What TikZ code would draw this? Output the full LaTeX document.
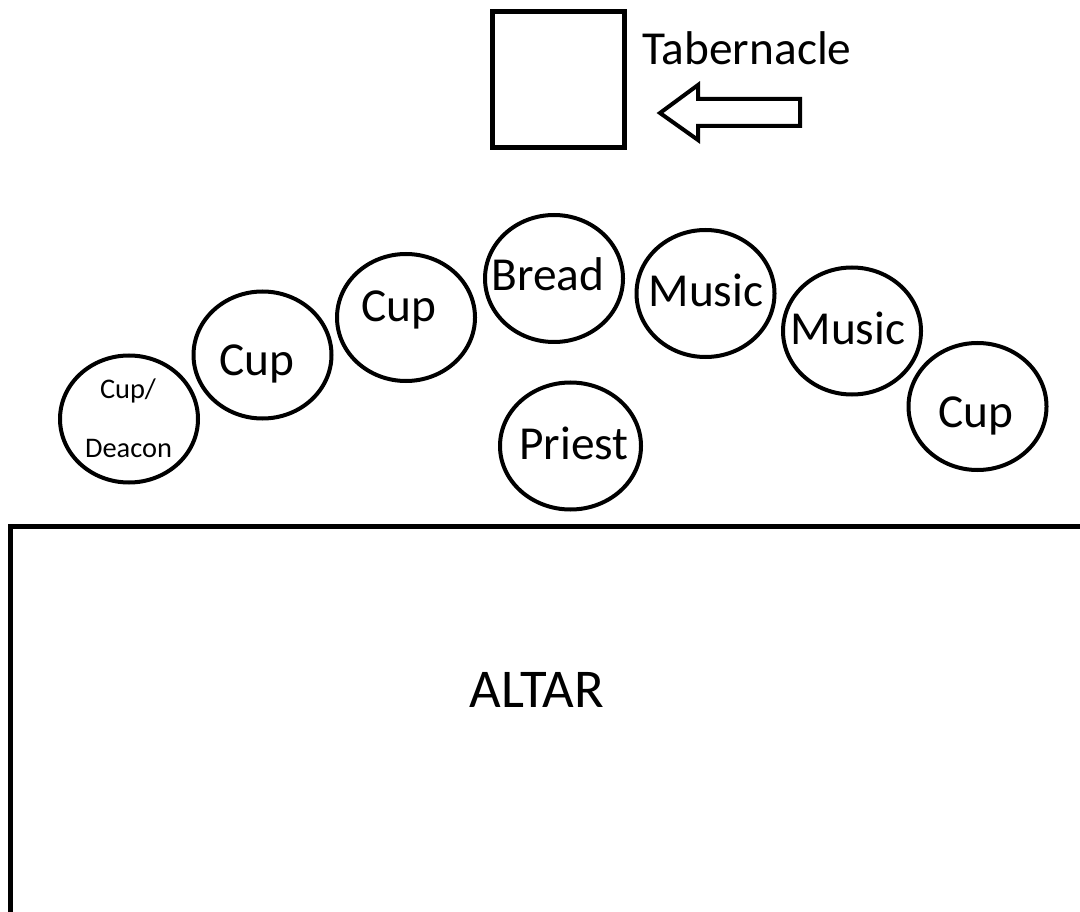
\documentclass[tikz,border=0pt]{standalone}
\usepackage{fontspec}
\setmainfont{Carlito}
\usetikzlibrary{shapes.geometric}
\begin{document}
\begin{tikzpicture}[x=0.75pt,y=-0.75pt,
  seat/.style={draw,line width=3pt,ellipse,inner sep=0pt,minimum width=138*0.75pt,minimum height=127*0.75pt},
  lbl/.style={anchor=base,inner sep=0pt,font=\fontsize{35.5}{40}\selectfont},
  small/.style={anchor=base,inner sep=0pt,font=\fontsize{21.3}{24}\selectfont}]
\useasboundingbox (0,0) rectangle (1080,912);
% tabernacle
\node[draw,line width=3.75pt,minimum width=132*0.75pt,minimum height=136*0.75pt,inner sep=0pt] (tab) at (558,80) {};
\node[lbl] (tabtxt) at (747,65) {Tabernacle};
% hollow arrow
\draw[line width=3pt,line join=miter] (660,113) -- (698,85) -- (698,99) -- (800,99) -- (800,126) -- (698,126) -- (698,140) -- cycle;
% seats
\node[seat] (cd) at (129,419) {};
\node[small] (cdt1) at (128,398) {Cup/};
\node[small] (cdt2) at (128.5,457) {Deacon};
\node[seat] (c2) at (262.5,355) {};
\node[lbl] (c2t) at (257,375) {Cup};
\node[seat] (c3) at (406,317.5) {};
\node[lbl] (c3t) at (399,322) {Cup};
\node[seat] (br) at (554,278.5) {};
\node[lbl] (brt) at (548,291) {Bread};
\node[seat] (m1) at (705.5,293.5) {};
\node[lbl] (m1t) at (706,307) {Music};
\node[seat] (m2) at (852,331) {};
\node[lbl] (m2t) at (848,345) {Music};
\node[seat] (cr) at (977.5,406.5) {};
\node[lbl] (crt) at (976,427) {Cup};
\node[seat,minimum width=141*0.75pt] (pr) at (570.5,446) {};
\node[lbl] (prt) at (574,459) {Priest};
% altar
\draw[line width=3.75pt] (10,930) -- (10,526) -- (1100,526);
\node[anchor=base,inner sep=0pt,font=\fontsize{41}{46}\selectfont] (altar) at (537,707) {ALTAR};
\end{tikzpicture}
\end{document}
